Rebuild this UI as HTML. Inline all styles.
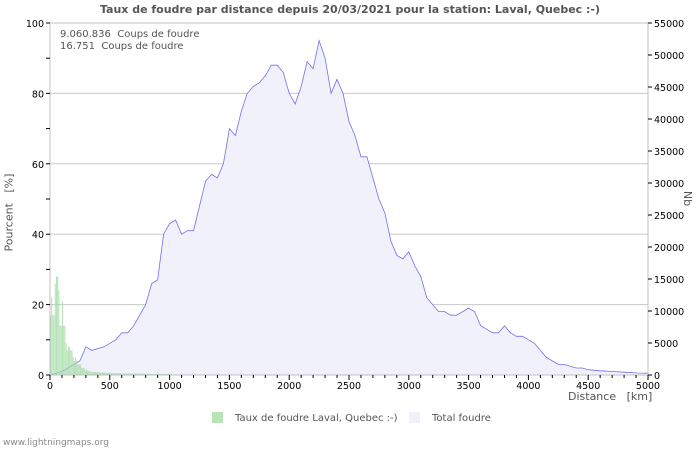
<!DOCTYPE html>
<html><head><meta charset="utf-8"><style>
body{margin:0;background:#fff;font-family:"DejaVu Sans","Liberation Sans",sans-serif;}
svg text{font-family:"DejaVu Sans","Liberation Sans",sans-serif;}
</style></head><body>
<svg id="c" width="700" height="450" xmlns="http://www.w3.org/2000/svg"></svg>
<script>
const totalDist=[0,50,100,150,200,250,300,350,400,450,500,550,600,650,700,750,800,850,900,950,1000,1050,1100,1150,1200,1250,1300,1350,1400,1450,1500,1550,1600,1650,1700,1750,1800,1850,1900,1950,2000,2050,2100,2150,2200,2250,2300,2350,2400,2450,2500,2550,2600,2650,2700,2750,2800,2850,2900,2950,3000,3050,3100,3150,3200,3250,3300,3350,3400,3450,3500,3550,3600,3650,3700,3750,3800,3850,3900,3950,4000,4050,4100,4150,4200,4250,4300,4350,4400,4450,4500,4600,4700,4800,4900,5000];
const totalPct=[0,0.5,1,2,3,4,8,7,7.5,8,9,10,12,12,14,17,20,26,27,40,43,44,40,41,41,48,55,57,56,60,70,68,75,80,82,83,85,88,88,86,80,77,82,89,87,95,90,80,84,80,72,68,62,62,56,50,46,38,34,33,35,31,28,22,20,18,18,17,17,18,19,18,14,13,12,12,14,12,11,11,10,9,7,5,4,3,3,2.5,2,2,1.5,1.2,1,0.8,0.6,0.5];
const totalNb=totalPct.map(p=>p*550);
const barDist=[0,10,20,30,40,50,60,70,80,90,100,110,120,130,140,150,160,170,180,190,200,210,220,230,240,250,260,270,280,290,300,310,320,330,340,350,400,450,500,600,700,800,900,1000];
const barPct=[17,22,17,17,26,28,28,24,14,14,21,14,14,9,7,8,8,7,7,5,4,5,4,3,3,3,2,2,2,1.5,1.5,1.2,1.2,1,1,0.8,0.7,0.6,0.5,0.4,0.4,0.3,0.3,0.3];
const leftTicks=[0,20,40,60,80,100];
const rightTicks=[0,5000,10000,15000,20000,25000,30000,35000,40000,45000,50000,55000];
const xTicks=[0,500,1000,1500,2000,2500,3000,3500,4000,4500,5000];

const X0=50,X1=648,Y0=375,Y1=23;
const sx=d=>X0+d/5000*(X1-X0);
const sy=p=>Y0-p/100*(Y0-Y1);
const syr=n=>Y0-n/55000*(Y0-Y1);
const svg=document.getElementById('c');
const NS='http://www.w3.org/2000/svg';
function mk(t,a,txt){const e=document.createElementNS(NS,t);for(const k in a)e.setAttribute(k,a[k]);if(txt!==undefined)e.textContent=txt;svg.appendChild(e);return e;}

leftTicks.forEach(t=>{if(t>0){const g=mk('line',{x1:X0,x2:X1,y1:sy(t),y2:sy(t),stroke:'#c8c8c8','stroke-width':1});

}});
let d='M'+sx(0)+','+Y0;
totalDist.forEach((v,i)=>{d+=' L'+sx(v).toFixed(1)+','+syr(totalNb[i]).toFixed(1);});
const area=mk('path',{d:d+' L'+sx(5000)+','+Y0+' Z',fill:'#f1f1fc',stroke:'none'});


let l='';totalDist.forEach((v,i)=>{l+=(i?' L':'M')+sx(v).toFixed(1)+','+syr(totalNb[i]).toFixed(1);});
const line=mk('path',{d:l,fill:'none',stroke:'#7070ee','stroke-width':0.8});


barDist.forEach((v,i)=>{const next=i<barDist.length-1?barDist[i+1]:v+10;const w=Math.max(1,sx(Math.min(next,v+10))-sx(v)-0.2);
const b=mk('rect',{x:sx(v),y:sy(barPct[i]),width:(next-v>10?sx(next)-sx(v):w),height:Y0-sy(barPct[i]),fill:'#a8dca8',opacity:0.85});

});
mk('line',{x1:X0,x2:X0,y1:Y1,y2:Y0,stroke:'#c0c0c0'});
mk('line',{x1:X1,x2:X1,y1:Y1,y2:Y0,stroke:'#c0c0c0'});
mk('line',{x1:X0,x2:X1,y1:Y1,y2:Y1,stroke:'#c0c0c0'});
mk('line',{x1:X0,x2:X1,y1:Y0,y2:Y0,stroke:'#c0c0c0'});
for(let t=0;t<=100;t+=10)mk('line',{x1:X0-4,x2:X0,y1:sy(t),y2:sy(t),stroke:'#000'});
leftTicks.forEach(t=>{const e=mk('text',{x:X0-6,y:sy(t)+4,'text-anchor':'end','font-size':9.5,fill:'#000'},t);

});
rightTicks.forEach(t=>{mk('line',{x1:X1,x2:X1+4,y1:syr(t),y2:syr(t),stroke:'#000'});
const e=mk('text',{x:X1+6,y:syr(t)+4,'font-size':9.5,fill:'#000'},t);

});
for(let t=0;t<=5000;t+=100)mk('line',{x1:sx(t),x2:sx(t),y1:Y0,y2:Y0+(t%500?3:5),stroke:'#000'});
xTicks.forEach(t=>{const e=mk('text',{x:sx(t),y:Y0+14,'text-anchor':'middle','font-size':9.5,fill:'#000'},t);

});
</script>
<div style="position:absolute;left:0;top:0;width:700px;height:450px;pointer-events:none">
<div style="position:absolute;left:0;width:700px;top:3px;text-align:center;font-size:11px;font-weight:bold;color:#555">Taux de foudre par distance depuis 20/03/2021 pour la station: Laval, Quebec :-)</div>
<div style="position:absolute;left:60px;top:29px;font-size:10px;color:#555">9.060.836&nbsp; Coups de foudre</div>
<div style="position:absolute;left:60px;top:41px;font-size:10px;color:#555">16.751&nbsp; Coups de foudre</div>
<div style="position:absolute;left:-36px;top:206px;width:90px;transform:rotate(-90deg);font-size:11px;color:#555;text-align:center;white-space:nowrap">Pourcent&nbsp;&nbsp; [%]</div>
<div style="position:absolute;left:680px;top:192px;transform:rotate(90deg);font-size:11px;color:#555">Nb</div>
<div style="position:absolute;left:568px;top:390px;font-size:11px;color:#555;white-space:nowrap">Distance&nbsp;&nbsp; [km]</div>
<div style="position:absolute;left:212px;top:412px;font-size:10px;color:#555;white-space:nowrap"><span style="display:inline-block;width:11px;height:11px;background:#b8e4b8;vertical-align:-2px;margin-right:12px"></span>Taux de foudre Laval, Quebec :-)</div>
<div style="position:absolute;left:409px;top:412px;font-size:10px;color:#555;white-space:nowrap"><span style="display:inline-block;width:11px;height:11px;background:#f1f1fc;vertical-align:-2px;margin-right:12px"></span>Total foudre</div>
<div style="position:absolute;left:3px;top:438px;font-size:9px;color:#888">www.lightningmaps.org</div>
</div>
</body></html>
